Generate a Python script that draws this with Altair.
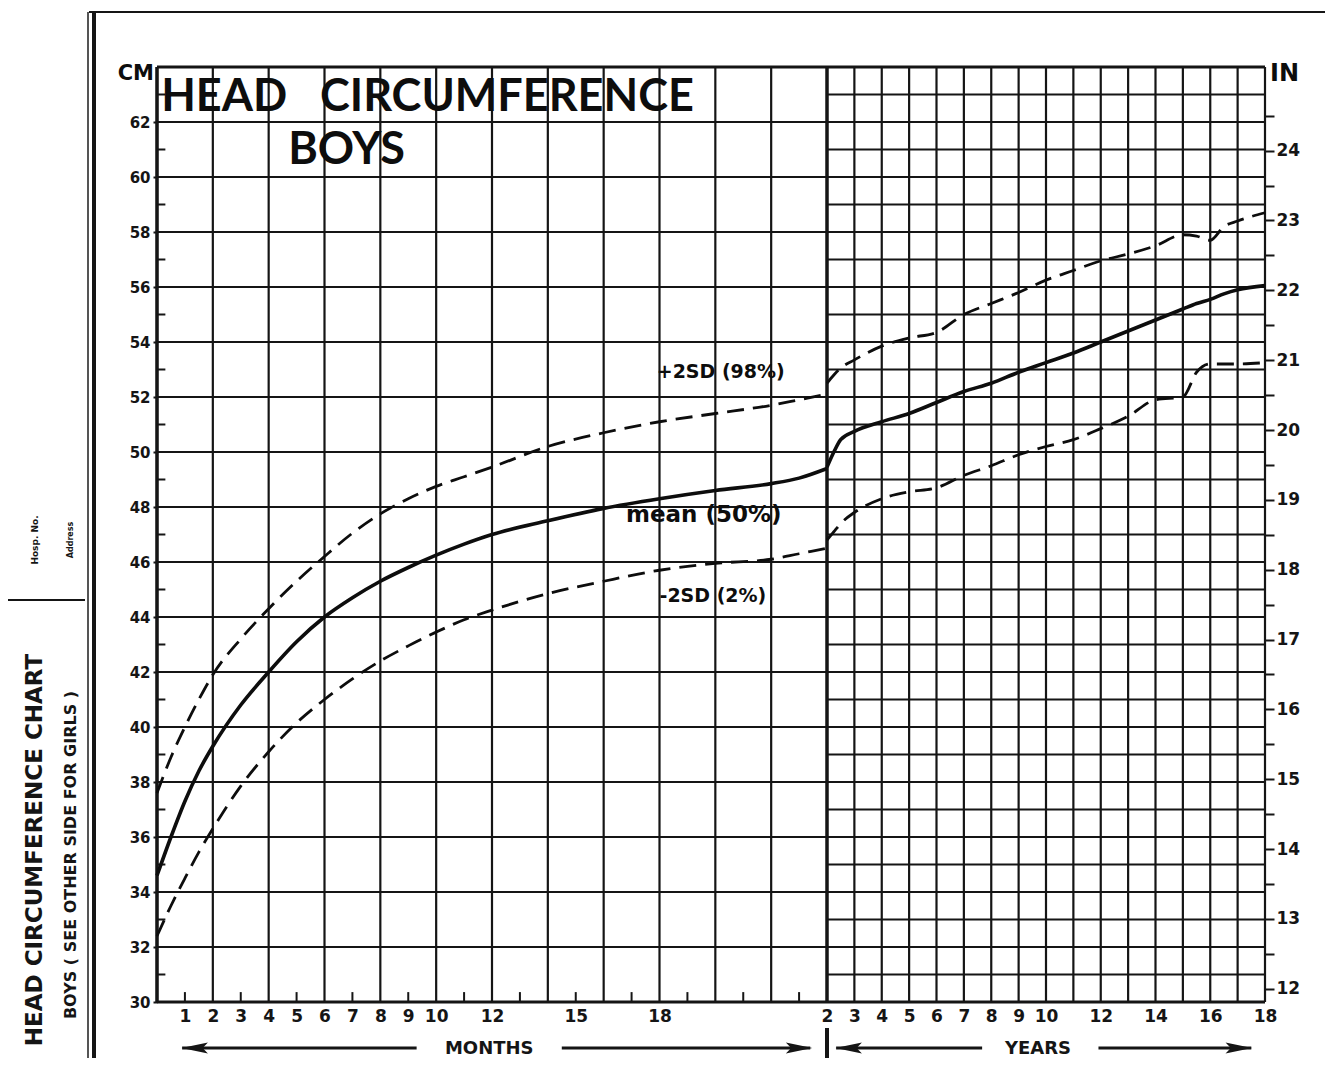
import altair as alt
import pandas as pd

# ---------------- values ----------------
months = [0, 0.5, 1, 1.5, 2, 3, 4, 5, 6, 7, 8, 9, 10, 11, 12, 14, 16, 18, 20, 22, 23, 24]
mean_months = [34.6, 36.0, 37.3, 38.4, 39.3, 40.8, 42.0, 43.1, 44.0, 44.7, 45.3, 45.8,
               46.25, 46.65, 47.0, 47.5, 47.95, 48.3, 48.6, 48.85, 49.05, 49.4]
plus2sd_months = [37.6, 38.9, 40.0, 41.0, 41.9, 43.2, 44.3, 45.3, 46.2, 47.05, 47.75, 48.3,
                  48.75, 49.1, 49.45, 50.2, 50.7, 51.1, 51.4, 51.7, 51.9, 52.1]
minus2sd_months = [32.4, 33.5, 34.5, 35.45, 36.3, 37.85, 39.1, 40.15, 41.0, 41.75, 42.4, 42.95,
                   43.45, 43.9, 44.25, 44.85, 45.3, 45.7, 45.95, 46.1, 46.3, 46.5]

years = [2, 2.25, 2.5, 3, 4, 5, 6, 7, 8, 9, 10, 11, 12, 13, 14, 15, 15.5, 16, 16.5, 17, 18]
mean_years = [49.45, 50.0, 50.45, 50.75, 51.1, 51.4, 51.8, 52.2, 52.5, 52.9, 53.25, 53.6,
              54.0, 54.4, 54.8, 55.2, 55.4, 55.55, 55.75, 55.9, 56.05]
plus2sd_years = [52.5, 52.8, 53.05, 53.35, 53.85, 54.15, 54.35, 55.0, 55.4, 55.8, 56.25, 56.6,
                 56.95, 57.2, 57.5, 57.9, 57.85, 57.7, 58.2, 58.4, 58.7]
minus2sd_years = [46.8, 47.1, 47.4, 47.8, 48.3, 48.55, 48.7, 49.15, 49.5, 49.9, 50.2, 50.45,
                  50.85, 51.3, 51.9, 52.0, 52.9, 53.2, 53.2, 53.2, 53.25]

month_labels = [1, 2, 3, 4, 5, 6, 7, 8, 9, 10, 12, 15, 18]
year_labels = [2, 3, 4, 5, 6, 7, 8, 9, 10, 12, 14, 16, 18]
cm_labels = list(range(30, 63, 2))
inch_ticks = [h / 2 for h in range(24, 50)]          # 12 in ... 24.5 in, every half inch

month_grid = list(range(0, 24, 2))
year_grid = list(range(3, 19))
cm_grid_months = list(range(30, 65, 2))
cm_grid_years = list(range(30, 65, 1))
cm_minor = list(range(31, 64, 2))
month_minor = list(range(1, 24, 2))

CM_MIN, CM_MAX = 30, 64
W_M, W_Y, H = 670, 438, 935
INK = "#151515"
FONT = "DejaVu Sans"

xs = alt.Scale(domain=[0, 24, 216], range=[0, W_M, W_M + W_Y], nice=False, zero=False)
ys = alt.Scale(domain=[CM_MIN, CM_MAX], nice=False, zero=False)

# ---------------- tables ----------------
rows = []
for name, mv, yv in [("mean", mean_months, mean_years),
                     ("+2SD", plus2sd_months, plus2sd_years),
                     ("-2SD", minus2sd_months, minus2sd_years)]:
    for m, v in zip(months, mv):
        rows.append(dict(series=name, part=name + "m", age=m, cm=v))
    for yr, v in zip(years, yv):
        rows.append(dict(series=name, part=name + "y", age=yr * 12, cm=v))
curves = pd.DataFrame(rows)

vgrid = pd.DataFrame({"age": month_grid + [a * 12 for a in year_grid]})
vgrid["lo"], vgrid["hi"] = CM_MIN, CM_MAX
hgrid = pd.concat([
    pd.DataFrame({"cm": cm_grid_months, "a0": 0, "a1": 24}),
    pd.DataFrame({"cm": cm_grid_years, "a0": 24, "a1": 216}),
])
ytick_minor = pd.DataFrame({"cm": cm_minor, "a0": 0, "a1": 0.3})
xtick_minor = pd.DataFrame({"age": month_minor, "lo": 30, "hi": 30.36})
inch_df = pd.DataFrame({"cm": [i * 2.54 for i in inch_ticks]})
label_ages = month_labels + [y * 12 for y in year_labels]
axis_host = pd.DataFrame({"age": label_ages})

noX = alt.X("age:Q", scale=xs, axis=None)

# bottom axis (months / years), carried by an invisible layer
xaxis_layer = alt.Chart(axis_host).mark_point(opacity=0).encode(
    x=alt.X("age:Q", scale=xs, axis=alt.Axis(
        orient="bottom", values=label_ages, domain=False, grid=False, ticks=False,
        labelExpr="datum.value < 24 ? format(datum.value, 'd') : format(datum.value / 12, 'd')",
        labelFont=FONT, labelFontSize=17, labelFontWeight="bold", labelColor=INK,
        labelPadding=6, labelFlush=False, labelOverlap=False, title=None)),
    y=alt.value(H))

# ---------------- grid ----------------
hgrid_layer = alt.Chart(hgrid).mark_rule(color=INK, strokeWidth=2.2).encode(
    x=alt.X("a0:Q", scale=xs, axis=None), x2="a1:Q",
    y=alt.Y("cm:Q", scale=ys, axis=alt.Axis(
        orient="left", values=cm_labels, format="d", domain=False, grid=False,
        tickSize=4, tickWidth=2, tickColor=INK, labelPadding=3,
        labelFont=FONT, labelFontSize=15, labelFontWeight="bold", labelColor=INK,
        labelFlush=False, labelOverlap=False, title=None)))
vgrid_layer = alt.Chart(vgrid).mark_rule(color=INK, strokeWidth=2.2).encode(
    x=noX, y=alt.Y("lo:Q", scale=ys, axis=None), y2="hi:Q")
left_border = alt.Chart(pd.DataFrame({"age": [0, 24], "lo": [30, 30], "hi": [64, 64]})).mark_rule(
    color=INK, strokeWidth=3.5).encode(x=noX, y=alt.Y("lo:Q", scale=ys, axis=None), y2="hi:Q")
frame_layer = alt.Chart(pd.DataFrame({"cm": [30, 64], "a0": [0, 0], "a1": [216, 216]})).mark_rule(
    color=INK, strokeWidth=3).encode(
    x=alt.X("a0:Q", scale=xs, axis=None), x2="a1:Q", y=alt.Y("cm:Q", scale=ys, axis=None))
ymin_layer = alt.Chart(ytick_minor).mark_rule(color=INK, strokeWidth=2).encode(
    x=alt.X("a0:Q", scale=xs, axis=None), x2="a1:Q", y=alt.Y("cm:Q", scale=ys, axis=None))
xmin_layer = alt.Chart(xtick_minor).mark_rule(color=INK, strokeWidth=2).encode(
    x=noX, y=alt.Y("lo:Q", scale=ys, axis=None), y2="hi:Q")

# right inch axis on the same cm scale
inch_layer = alt.Chart(inch_df).mark_point(opacity=0).encode(
    x=alt.value(W_M + W_Y),
    y=alt.Y("cm:Q", scale=ys, axis=alt.Axis(
        orient="right", values=[i * 2.54 for i in inch_ticks], domain=False, grid=False,
        tickSize=9, tickWidth=2, tickColor=INK, labelPadding=2,
        labelExpr="abs(datum.value / 2.54 - round(datum.value / 2.54)) < 0.01 ? format(round(datum.value / 2.54), 'd') : ''",
        labelFont=FONT, labelFontSize=17, labelFontWeight="bold", labelColor=INK,
        labelFlush=False, labelOverlap=False, title=None)))

# ---------------- curves ----------------
mean_layer = alt.Chart(curves[curves.series == "mean"]).mark_line(
    color="#0d0d0d", strokeWidth=3.6, interpolate="monotone").encode(
    x=noX, y=alt.Y("cm:Q", scale=ys, axis=None), detail="part:N")
sd_layer = alt.Chart(curves[curves.series != "mean"]).mark_line(
    color="#0d0d0d", strokeWidth=2.8, strokeDash=[17, 9], interpolate="monotone").encode(
    x=noX, y=alt.Y("cm:Q", scale=ys, axis=None), detail="part:N")

# ---------------- texts inside the plot ----------------
def txt(df, **kw):
    return alt.Chart(pd.DataFrame(df)).mark_text(color="#0d0d0d", **kw).encode(
        x=noX, y=alt.Y("cm:Q", scale=ys, axis=None), text="t:N")

title1 = txt({"t": ["HEAD\u00a0\u00a0\u00a0CIRCUMFERENCE"], "age": [0.15], "cm": [62.9]},
             align="left", baseline="middle", font="Lato", fontSize=45, fontWeight="bold")
title2 = txt({"t": ["BOYS"], "age": [4.7], "cm": [61.0]},
             align="left", baseline="middle", font="Lato", fontSize=45, fontWeight="bold")
lab_plus = txt({"t": ["+2SD (98%)"], "age": [17.9], "cm": [52.9]},
               align="left", baseline="middle", font=FONT, fontSize=19, fontWeight="bold")
lab_mean = txt({"t": ["mean (50%)"], "age": [16.8], "cm": [47.7]},
               align="left", baseline="middle", font=FONT, fontSize=23, fontWeight="bold")
lab_minus = txt({"t": ["-2SD (2%)"], "age": [18.0], "cm": [44.75]},
                align="left", baseline="middle", font=FONT, fontSize=19, fontWeight="bold")
lab_cm = txt({"t": ["CM"], "age": [0], "cm": [63.75]},
             align="right", baseline="middle", dx=-3, font=FONT, fontSize=21, fontWeight="bold")
lab_in = txt({"t": ["IN"], "age": [216], "cm": [63.75]},
             align="left", baseline="middle", dx=5, font=FONT, fontSize=24, fontWeight="bold")

# ---------------- MONTHS / YEARS arrows below the axis ----------------
ARROW_Y = H + 46
arrow_lines = alt.Chart(pd.DataFrame({"a0": [0.9, 14.5, 28, 143], "a1": [9.3, 23.4, 92, 210]})).mark_rule(
    color=INK, strokeWidth=3).encode(
    x=alt.X("a0:Q", scale=xs, axis=None), x2="a1:Q", y=alt.value(ARROW_Y))
heads_left = alt.Chart(pd.DataFrame({"age": [1.35, 28.0 + 5.5]})).mark_point(
    shape="M-1,0L1,-0.42L0.6,0L1,0.42Z", size=700, filled=True, color=INK, opacity=1).encode(
    x=noX, y=alt.value(ARROW_Y))
heads_right = alt.Chart(pd.DataFrame({"age": [23.0, 210 - 5.5]})).mark_point(
    shape="M1,0L-1,-0.42L-0.6,0L-1,0.42Z", size=700, filled=True, color=INK, opacity=1).encode(
    x=noX, y=alt.value(ARROW_Y))
axis_words = alt.Chart(pd.DataFrame({"t": ["MONTHS", "YEARS"], "age": [11.9, 116.5]})).mark_text(
    font=FONT, fontSize=18, fontWeight="bold", color=INK, baseline="middle").encode(
    x=noX, y=alt.value(ARROW_Y + 1), text="t:N")
sep_below = alt.Chart(pd.DataFrame({"age": [24]})).mark_rule(color=INK, strokeWidth=4).encode(
    x=noX, y=alt.value(H + 26), y2=alt.value(H + 70))

# ---------------- page decoration (left strip and outer frame) ----------------
one = pd.DataFrame({"k": [0]})
frame_top = alt.Chart(one).mark_rule(color=INK, strokeWidth=2).encode(
    x=alt.value(-68), x2=alt.value(W_M + W_Y + 70), y=alt.value(-55))
frame_left1 = alt.Chart(one).mark_rule(color=INK, strokeWidth=4).encode(
    x=alt.value(-63), y=alt.value(-55), y2=alt.value(H + 70))
frame_left2 = alt.Chart(one).mark_rule(color="#555", strokeWidth=2).encode(
    x=alt.value(-69), y=alt.value(-55), y2=alt.value(H + 70))
strip_line = alt.Chart(one).mark_rule(color=INK, strokeWidth=2).encode(
    x=alt.value(-150), x2=alt.value(-72), y=alt.value(533))

def strip_text(t, x, y, size, weight="bold"):
    return alt.Chart(one).mark_text(angle=270, align="center", baseline="middle", font=FONT,
                                    fontSize=size, fontWeight=weight, color=INK).encode(
        x=alt.value(x), y=alt.value(y), text=alt.value(t))

strip1 = strip_text("HEAD CIRCUMFERENCE CHART", -122, 783, 23)
strip2 = strip_text("BOYS ( SEE OTHER SIDE FOR GIRLS )", -86, 788, 16)
strip3 = strip_text("Hosp. No.", -122, 473, 9)
strip4 = strip_text("Address", -86, 473, 8)

chart = alt.layer(
    xaxis_layer, hgrid_layer, vgrid_layer, frame_layer, left_border, ymin_layer, xmin_layer,
    inch_layer,
    sd_layer, mean_layer,
    title1, title2, lab_plus, lab_mean, lab_minus, lab_cm, lab_in,
    arrow_lines, heads_left, heads_right, axis_words, sep_below,
    frame_top, frame_left1, frame_left2, strip_line, strip1, strip2, strip3, strip4,
).resolve_axis(x="independent", y="independent").properties(
    width=W_M + W_Y, height=H,
    autosize=alt.AutoSizeParams(type="none"),
    padding={"left": 149, "top": 59, "right": 60, "bottom": 56},
    background="white",
).configure_view(stroke=None)

chart.save("out.html", embed_options={"renderer": "svg", "actions": False})
